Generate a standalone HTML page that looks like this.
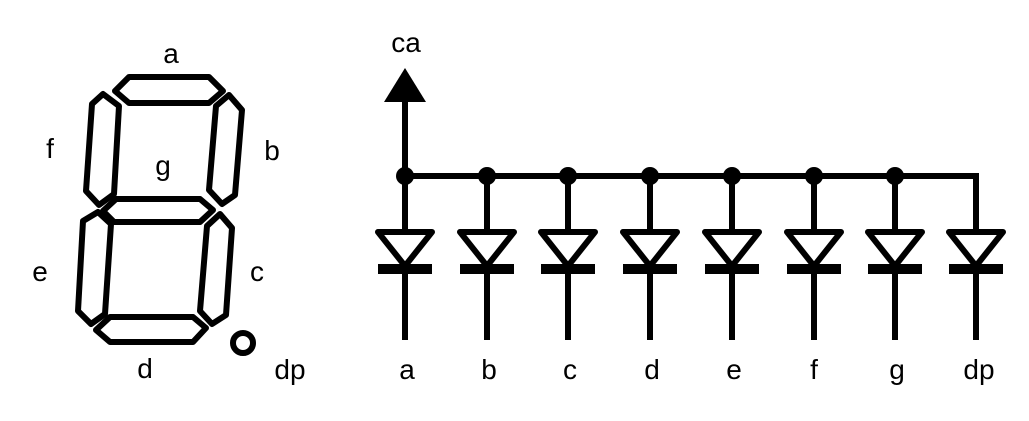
<!DOCTYPE html>
<html><head><style>
html,body{margin:0;padding:0;background:#fff;}
svg{display:block;}
text{font-family:"Liberation Sans",sans-serif;font-size:28px;fill:#000;text-anchor:middle;}
</style></head><body>
<svg width="1029" height="421" viewBox="0 0 1029 421" xmlns="http://www.w3.org/2000/svg">
<g fill="none" stroke="#000" stroke-width="6" stroke-linejoin="round">
<polygon points="129,77 209,77 223,91 209,103 129,103 115,91"/>
<polygon points="92,104 103,94 119,106 114,194 99,205 86,191"/>
<polygon points="216,106 229,95 242,110 235,195 222,204 209,190"/>
<polygon points="116,199 200,199 213,210 200,222 114,222 103,211"/>
<polygon points="83,221 98,212 111,224 105,314 91,324 78,311"/>
<polygon points="207,226 220,214 232,228 226,315 212,324 200,311"/>
<polygon points="110,317 193,317 206,328 193,342 110,342 96,330"/>
<circle cx="243" cy="343" r="10"/>
</g>
<text x="171" y="63">a</text>
<text x="50" y="158">f</text>
<text x="272" y="160">b</text>
<text x="163" y="175">g</text>
<text x="40" y="281">e</text>
<text x="257" y="281">c</text>
<text x="145" y="378">d</text>
<text x="290" y="379">dp</text>

<g stroke="#000" stroke-width="6" fill="none">
<line x1="405" y1="100" x2="405" y2="176"/>
<polyline points="405,176 976,176 976,232"/>
</g>
<polygon points="384,102 426,102 405,68" fill="#000"/>
<text x="406" y="52">ca</text>
<g fill="none" stroke="#000" stroke-width="6" stroke-linejoin="round">
<path d="M405,176V232M378,232H432L405,266ZM405,266V340"/>
<path d="M487,176V232M460,232H514L487,266ZM487,266V340"/>
<path d="M568,176V232M541,232H595L568,266ZM568,266V340"/>
<path d="M650,176V232M623,232H677L650,266ZM650,266V340"/>
<path d="M732,176V232M705,232H759L732,266ZM732,266V340"/>
<path d="M814,176V232M787,232H841L814,266ZM814,266V340"/>
<path d="M895,176V232M868,232H922L895,266ZM895,266V340"/>
<path d="M976,176V232M949,232H1003L976,266ZM976,266V340"/>
</g>
<g fill="#000">
<rect x="378" y="264" width="54" height="10"/>
<rect x="460" y="264" width="54" height="10"/>
<rect x="541" y="264" width="54" height="10"/>
<rect x="623" y="264" width="54" height="10"/>
<rect x="705" y="264" width="54" height="10"/>
<rect x="787" y="264" width="54" height="10"/>
<rect x="868" y="264" width="54" height="10"/>
<rect x="949" y="264" width="54" height="10"/>
<circle cx="405" cy="176" r="9"/>
<circle cx="487" cy="176" r="9"/>
<circle cx="568" cy="176" r="9"/>
<circle cx="650" cy="176" r="9"/>
<circle cx="732" cy="176" r="9"/>
<circle cx="814" cy="176" r="9"/>
<circle cx="895" cy="176" r="9"/>
</g>
<text x="407" y="379">a</text>
<text x="489" y="379">b</text>
<text x="570" y="379">c</text>
<text x="652" y="379">d</text>
<text x="734" y="379">e</text>
<text x="814" y="379">f</text>
<text x="897" y="379">g</text>
<text x="979" y="379">dp</text>
</svg>
</body></html>
